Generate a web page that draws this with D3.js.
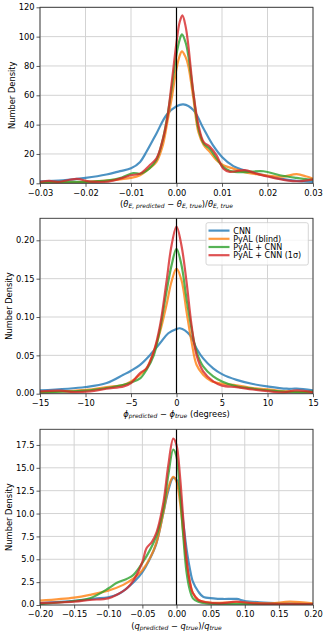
<!DOCTYPE html>
<html><head><meta charset="utf-8">
<script src="https://cdn.jsdelivr.net/npm/d3@7"></script>
<style>
html,body{margin:0;padding:0;background:#fff;}
svg{display:block;font-family:"DejaVu Sans",sans-serif;}
</style></head>
<body>
<svg id="c" width="328" height="636"></svg>
<script>
// ---------- DATA ----------
const seriesNames = ["CNN", "PyAL (blind)", "PyAL + CNN", "PyAL + CNN (1σ)"];
const seriesColors = ["#1f77b4", "#ff7f0e", "#2ca02c", "#d62728"];

// Panel 1: (θE,pred − θE,true)/θE,true
const thetaXTicks = [-0.03, -0.02, -0.01, 0.00, 0.01, 0.02, 0.03];
const thetaYTicks = [0, 20, 40, 60, 80, 100, 120];
const thetaCNN = [[-0.03,1.4],[-0.025,2],[-0.02,3.7],[-0.0154,6],[-0.0124,8.3],[-0.01,10.2],[-0.008,14.6],[-0.0066,21.5],[-0.0044,34],[-0.0022,46.6],[0,52.5],[0.0015,53.8],[0.0037,50],[0.0059,37.5],[0.008,26],[0.01,18],[0.0125,11.7],[0.0147,9],[0.0176,6.6],[0.02,5],[0.0227,3.2],[0.0264,1.6],[0.03,1]];
const thetaBlind = [[-0.03,0.3],[-0.025,0.5],[-0.02,1],[-0.015,2],[-0.01,3.7],[-0.008,5.5],[-0.006,10],[-0.0044,14.6],[-0.003,26],[-0.002,42],[-0.001,59],[0,78],[0.0007,87],[0.0012,90],[0.002,86],[0.0026,80],[0.0037,58],[0.0048,35],[0.006,26],[0.0073,21.5],[0.0088,15.8],[0.0103,12.3],[0.0125,10],[0.0147,7.8],[0.0176,6.2],[0.0205,5],[0.0234,4.5],[0.0264,6.2],[0.0286,4.6],[0.03,3.2]];
const thetaPyCNN = [[-0.03,0.5],[-0.025,1],[-0.02,1],[-0.015,2],[-0.012,4],[-0.0095,7],[-0.008,6.5],[-0.006,10],[-0.0044,16],[-0.003,30],[-0.002,46],[-0.001,66],[0,88],[0.0007,98],[0.0012,101.5],[0.002,96],[0.0026,87],[0.0037,61.5],[0.0048,37.5],[0.006,27],[0.0073,23.5],[0.0088,17],[0.0103,11],[0.0117,8.5],[0.0146,7.6],[0.0191,8.2],[0.0227,5.5],[0.0264,3.7],[0.03,2.3]];
const thetaSigma = [[-0.03,1],[-0.028,1.6],[-0.026,1],[-0.022,3],[-0.019,1.2],[-0.015,1.2],[-0.012,3.5],[-0.01,5.5],[-0.008,6.6],[-0.006,12],[-0.0044,17],[-0.003,30],[-0.002,45],[-0.001,70],[0,96],[0.0007,110],[0.0013,114.5],[0.002,107],[0.0026,94],[0.0037,62],[0.0048,40],[0.006,28],[0.0073,25],[0.0088,19],[0.0103,10],[0.0117,7.8],[0.0132,8.3],[0.015,9],[0.0176,6.6],[0.0205,4.3],[0.0242,2],[0.027,1.4],[0.03,2.7]];

// Panel 2: φ_pred − φ_true (degrees)
const phiXTicks = [-15, -10, -5, 0, 5, 10, 15];
const phiYTicks = [0, 0.05, 0.10, 0.15, 0.20];
const phiCNN = [[-15,0.0043],[-10,0.0087],[-7.67,0.0139],[-5.84,0.0247],[-5,0.030],[-4,0.0377],[-2.9,0.0506],[-1.8,0.066],[-0.9,0.0788],[0,0.0844],[0.37,0.0853],[1.47,0.0766],[2.2,0.059],[2.93,0.046],[4.03,0.033],[5,0.0255],[6.6,0.018],[8.4,0.0126],[10,0.0095],[12.1,0.0065],[13.2,0.0065],[15,0.0043]];
const phiBlind = [[-15,0.0017],[-10,0.005],[-7.7,0.0087],[-5.8,0.0117],[-5,0.016],[-4,0.0247],[-3.3,0.033],[-2.5,0.055],[-1.8,0.081],[-1.1,0.1156],[-0.55,0.146],[0,0.163],[0.55,0.148],[1.1,0.107],[1.65,0.068],[2.2,0.0377],[2.93,0.0247],[3.8,0.0165],[5,0.013],[6.6,0.011],[8.4,0.0074],[10.3,0.0052],[12.1,0.003],[15,0.0017]];
const phiPyCNN = [[-15,0.002],[-10,0.004],[-7.7,0.0074],[-5.8,0.0117],[-5,0.0147],[-4,0.020],[-3.3,0.031],[-2.5,0.05],[-1.8,0.085],[-1.1,0.133],[-0.55,0.167],[0,0.189],[0.55,0.1675],[1.1,0.124],[1.65,0.085],[2.2,0.055],[2.93,0.0355],[4.03,0.0225],[5,0.016],[6.6,0.0095],[8.4,0.0065],[10.3,0.004],[13.9,0.002],[15,0.003]];
const phiSigma = [[-15,0.003],[-12.8,0.004],[-11.3,0.002],[-9.5,0.003],[-7.7,0.0065],[-5.8,0.0095],[-5,0.0139],[-4,0.027],[-3.3,0.033],[-2.5,0.055],[-1.8,0.0896],[-1.1,0.146],[-0.55,0.193],[0,0.218],[0.55,0.193],[1.1,0.146],[1.65,0.0896],[2.2,0.0506],[2.93,0.029],[4.03,0.016],[5,0.0105],[6.6,0.0085],[8.4,0.0055],[10.3,0.003],[11.7,0.0017],[13.2,0.0043],[15,0.0017]];

// Panel 3: (q_pred − q_true)/q_true
const qXTicks = [-0.20, -0.15, -0.10, -0.05, 0.00, 0.05, 0.10, 0.15, 0.20];
const qYTicks = [0, 2.5, 5.0, 7.5, 10.0, 12.5, 15.0, 17.5];
const qCNN = [[-0.2,0.2],[-0.15,0.45],[-0.12,0.7],[-0.1,0.85],[-0.085,1.2],[-0.07,2.0],[-0.06,2.7],[-0.05,3.6],[-0.04,4.9],[-0.03,6.6],[-0.02,9.8],[-0.012,12.5],[-0.005,13.9],[0,13.7],[0.005,12],[0.0098,9.1],[0.0146,6.2],[0.0195,4.0],[0.024,2.55],[0.032,1.46],[0.039,0.9],[0.054,0.73],[0.068,0.66],[0.088,0.66],[0.1,0.44],[0.122,0.3],[0.161,0.18],[0.2,0.1]];
const qBlind = [[-0.2,0.47],[-0.15,0.8],[-0.127,1.1],[-0.1,1.57],[-0.078,2.2],[-0.063,2.9],[-0.05,3.8],[-0.039,5.1],[-0.029,6.9],[-0.019,10.2],[-0.012,12.8],[-0.005,14.0],[0,13.5],[0.005,11.3],[0.0098,8.0],[0.0146,4.7],[0.0195,2.55],[0.024,1.3],[0.032,0.55],[0.049,0.25],[0.088,0.3],[0.137,0.18],[0.166,0.36],[0.2,0.18]];
const qPyCNN = [[-0.2,0.1],[-0.15,0.44],[-0.127,0.73],[-0.1,1.8],[-0.088,2.4],[-0.073,2.85],[-0.063,3.3],[-0.05,4.6],[-0.039,6.0],[-0.029,7.65],[-0.019,10.6],[-0.012,14.2],[-0.0047,17.0],[0,16.2],[0.005,12.4],[0.0098,7.65],[0.0146,3.65],[0.0195,1.64],[0.024,0.73],[0.032,0.36],[0.044,0.18],[0.088,0.1],[0.2,0.1]];
const qSigma = [[-0.2,0.2],[-0.15,0.36],[-0.127,0.55],[-0.1,0.73],[-0.088,1.1],[-0.073,1.8],[-0.063,2.7],[-0.05,4.7],[-0.044,6.2],[-0.036,6.9],[-0.029,8.0],[-0.019,11.3],[-0.012,15.3],[-0.0047,18.2],[0,17.5],[0.005,14.2],[0.0098,9.5],[0.0146,5.1],[0.0195,2.55],[0.024,1.3],[0.032,0.55],[0.044,0.3],[0.063,0.18],[0.088,0.36],[0.112,0.18],[0.16,0.1],[0.2,0.1]];

// ---------- DRAW ----------
const svg = d3.select("#c");
const L = 40, R = 313;
const fmtMinus = s => s.replace("-", "\u2212");

const panels = [
  {top:7.3, bottom:183.3, xd:[-0.03,0.03], yd:[0,120], xt:thetaXTicks, yt:thetaYTicks,
   xf:d=>fmtMinus(d3.format(".2f")(d)), yf:d=>d3.format("d")(d),
   data:[thetaCNN,thetaBlind,thetaPyCNN,thetaSigma], legend:false, xlabelY:206.5, ylabelX:14.5},
  {top:218.3, bottom:393.7, xd:[-15,15], yd:[0,0.2287], xt:phiXTicks, yt:phiYTicks,
   xf:d=>fmtMinus(d3.format("d")(d)), yf:d=>d3.format(".2f")(d),
   data:[phiCNN,phiBlind,phiPyCNN,phiSigma], legend:true, xlabelY:416.5, ylabelX:11.5},
  {top:429.3, bottom:605, xd:[-0.2,0.2], yd:[0,19.21], xt:qXTicks, yt:qYTicks,
   xf:d=>fmtMinus(d3.format(".2f")(d)), yf:d=>d3.format(".1f")(d),
   data:[qCNN,qBlind,qPyCNN,qSigma], legend:false, xlabelY:628.5, ylabelX:11.5}
];

panels.forEach((p, i) => {
  const x = d3.scaleLinear().domain(p.xd).range([L, R]);
  const y = d3.scaleLinear().domain(p.yd).range([p.bottom, p.top]);
  const g = svg.append("g");
  const cid = "clip" + i;
  svg.append("clipPath").attr("id", cid).append("rect")
    .attr("x", L).attr("y", p.top).attr("width", R - L).attr("height", p.bottom - p.top);

  // grid
  g.append("g").selectAll("line").data(p.xt).join("line")
    .attr("x1", d => x(d)).attr("x2", d => x(d)).attr("y1", p.top).attr("y2", p.bottom)
    .attr("stroke", "#d3d3d3").attr("stroke-width", 1);
  g.append("g").selectAll("line").data(p.yt).join("line")
    .attr("x1", L).attr("x2", R).attr("y1", d => y(d)).attr("y2", d => y(d))
    .attr("stroke", "#d3d3d3").attr("stroke-width", 1);

  // axes
  const xa = g.append("g").attr("transform", `translate(0,${p.bottom})`)
    .call(d3.axisBottom(x).tickValues(p.xt).tickFormat(p.xf).tickSize(3.5).tickPadding(3));
  const ya = g.append("g").attr("transform", `translate(${L},0)`)
    .call(d3.axisLeft(y).tickValues(p.yt).tickFormat(p.yf).tickSize(3.5).tickPadding(2));
  [xa, ya].forEach(a => {
    a.select(".domain").remove();
    a.selectAll("text").attr("font-size", 8.3).attr("fill", "#000").attr("font-family", "DejaVu Sans");
    a.selectAll("line").attr("stroke", "#333").attr("stroke-width", 0.8);
  });
  // lift the bottom y-tick label slightly so it does not touch the x tick labels
  ya.selectAll("text").filter(d => d === 0).attr("dy", "0.2em");

  // lines
  const line = d3.line().x(d => x(d[0])).y(d => y(d[1])).curve(d3.curveCatmullRom.alpha(0.5));
  const lg = g.append("g").attr("clip-path", `url(#${cid})`);
  p.data.forEach((s, k) => {
    lg.append("path").attr("d", line(s)).attr("fill", "none")
      .attr("stroke", seriesColors[k]).attr("stroke-width", 2.2).attr("stroke-opacity", 0.8)
      .attr("stroke-linejoin", "round");
  });
  // zero line
  g.append("line").attr("x1", x(0)).attr("x2", x(0)).attr("y1", p.top).attr("y2", p.bottom)
    .attr("stroke", "#000").attr("stroke-width", 1.2);

  // frame
  g.append("rect").attr("x", L).attr("y", p.top).attr("width", R - L).attr("height", p.bottom - p.top)
    .attr("fill", "none").attr("stroke", "#333").attr("stroke-width", 0.9);

  // y label
  g.append("text").attr("transform", `translate(${p.ylabelX},${(p.top + p.bottom) / 2}) rotate(-90)`)
    .attr("text-anchor", "middle").attr("font-size", 8.3).text("Number Density");

  // legend
  if (p.legend) {
    const lgd = g.append("g");
    lgd.append("rect").attr("x", 206).attr("y", 222.7).attr("width", 102.3).attr("height", 42.3)
      .attr("rx", 2).attr("fill", "#fff").attr("fill-opacity", 0.8).attr("stroke", "#ccc").attr("stroke-width", 0.8);
    seriesNames.forEach((n, k) => {
      const yy = 230.6 + k * 8.2;
      lgd.append("line").attr("x1", 208.5).attr("x2", 229.5).attr("y1", yy).attr("y2", yy)
        .attr("stroke", seriesColors[k]).attr("stroke-width", 2.2).attr("stroke-opacity", 0.8);
      lgd.append("text").attr("x", 233.3).attr("y", yy + 2.9).attr("font-size", 8).text(n);
    });
  }
});

// x labels with sub/superscripts
function mathLabel(parts, cx, cy) {
  const t = svg.append("text").attr("x", cx).attr("y", cy).attr("text-anchor", "middle").attr("font-size", 8.3);
  parts.forEach(pt => {
    const ts = t.append("tspan").text(pt.t);
    if (pt.it) ts.attr("font-style", "italic");
    if (pt.sub) ts.attr("font-size", 6).attr("dy", 1.8);
    if (pt.back) ts.attr("dy", -1.8);
  });
}
mathLabel([{t:"("},{t:"θ",it:1},{t:"E, predicted",it:1,sub:1},{t:" − ",back:1},{t:"θ",it:1},{t:"E, true",it:1,sub:1},{t:")/",back:1},{t:"θ",it:1},{t:"E, true",it:1,sub:1}], 176.5, panels[0].xlabelY);
mathLabel([{t:"ϕ",it:1},{t:"predicted",it:1,sub:1},{t:" − ",back:1},{t:"ϕ",it:1},{t:"true",it:1,sub:1},{t:" (degrees)",back:1}], 176.5, panels[1].xlabelY);
mathLabel([{t:"("},{t:"q",it:1},{t:"predicted",it:1,sub:1},{t:" − ",back:1},{t:"q",it:1},{t:"true",it:1,sub:1},{t:")/",back:1},{t:"q",it:1},{t:"true",it:1,sub:1}], 176.5, panels[2].xlabelY);
</script>
</body></html>
